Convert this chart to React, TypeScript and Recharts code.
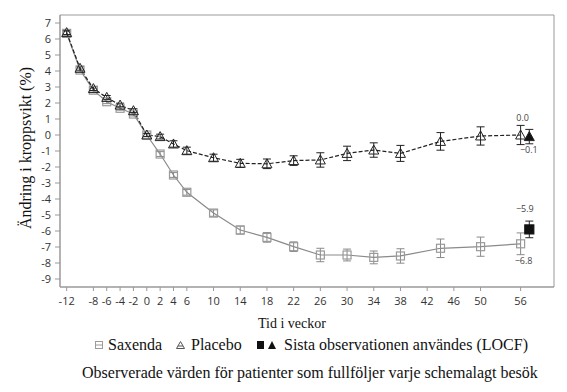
import React from "react";
import { ComposedChart, Line, Scatter, XAxis, YAxis, ErrorBar, ReferenceArea, LabelList } from "recharts";

// veckor (visit weeks) and mean change in body weight (%)
const weeks = [-12, -10, -8, -6, -4, -2, 0, 2, 4, 6, 10, 14, 18, 22, 26, 30, 34, 38, 44, 50, 56];
const saxenda = [6.35, 4.06, 2.8, 2.08, 1.67, 1.31, 0, -1.19, -2.5, -3.58, -4.88, -5.94, -6.4, -6.98, -7.5, -7.5, -7.65, -7.56, -7.08, -6.98, -6.8];
const saxendaErr = [0.12, 0.12, 0.12, 0.12, 0.12, 0.12, 0.1, 0.15, 0.15, 0.18, 0.2, 0.25, 0.3, 0.3, 0.42, 0.37, 0.4, 0.45, 0.58, 0.6, 0.68];
const placebo = [6.4, 4.17, 2.9, 2.35, 1.87, 1.52, 0, -0.1, -0.56, -0.98, -1.42, -1.77, -1.8, -1.6, -1.56, -1.15, -0.94, -1.15, -0.4, -0.06, 0.0];
const placeboErr = [0.12, 0.12, 0.12, 0.12, 0.12, 0.12, 0.1, 0.15, 0.2, 0.22, 0.22, 0.25, 0.3, 0.3, 0.45, 0.45, 0.45, 0.5, 0.55, 0.57, 0.6];

// LOCF values at end of treatment
const locfWeek = 57.3;
const saxendaLocf = -5.9;
const saxendaLocfErr = 0.52;
const placeboLocf = -0.1;
const placeboLocfErr = 0.45;

const xTicks = [-12, -8, -6, -4, -2, 0, 2, 4, 6, 10, 14, 18, 22, 26, 30, 34, 38, 42, 46, 50, 56];
const yTicks = [-9, -8, -7, -6, -5, -4, -3, -2, -1, 0, 1, 2, 3, 4, 5, 6, 7];

const saxData = weeks.map((w, i) => ({ week: w, value: saxenda[i], err: saxendaErr[i] }));
const plaData = weeks.map((w, i) => ({ week: w, value: placebo[i], err: placeboErr[i] }));
const saxLocfData = [{ week: locfWeek, value: saxendaLocf, err: saxendaLocfErr }];
const plaLocfData = [{ week: locfWeek, value: placeboLocf, err: placeboLocfErr }];

const serif = "Liberation Serif, Tinos, DejaVu Serif, Times New Roman, serif";
const sans = "Open Sans, Liberation Sans, sans-serif";

const fmt = (v: number) => v.toFixed(1).replace("-", "\u2212");

function Square(props: any) {
  const { cx, cy, filled } = props;
  if (cx == null || cy == null) return null;
  const s = filled ? 9 : 8;
  return (
    <rect x={cx - s / 2} y={cy - s / 2} width={s} height={s}
      fill={filled ? "#111" : "none"} stroke={filled ? "#111" : "#9a9a9a"} strokeWidth={1.2} />
  );
}

function Triangle(props: any) {
  const { cx, cy, filled } = props;
  if (cx == null || cy == null) return null;
  return (
    <path d={`M${cx},${cy - 5} L${cx + 5},${cy + 4} L${cx - 5},${cy + 4} Z`}
      fill={filled ? "#111" : "none"} stroke="#222" strokeWidth={1} />
  );
}

// value note next to the last point of a series
const note = (dx: number, dy: number, onlyIndex?: number) => (props: any) => {
  const { value, index } = props;
  if (onlyIndex != null && index !== onlyIndex) return null;
  const x = props.x ?? props.viewBox?.x;
  const y = props.y ?? props.viewBox?.y;
  if (x == null || y == null) return null;
  return (
    <text x={x + dx} y={y + dy} textAnchor="middle" dominantBaseline="central"
      fontFamily={sans} fontSize={9} fill="#444">
      {fmt(Number(value))}
    </text>
  );
};

const last = weeks.length - 1;

export default function App() {
  return (
    <div style={{ position: "absolute", left: 0, top: 0, width: 567, height: 392, background: "#fff" }}>
      <ComposedChart width={567} height={392} margin={{ top: 15, right: 13, bottom: 75, left: 0 }}>
        <XAxis type="number" dataKey="week" domain={[-13, 61]} ticks={xTicks} interval={0}
          allowDataOverflow height={30} tickSize={4} tickMargin={6}
          stroke="#999" tick={{ fill: "#333", fontSize: 11, fontFamily: sans }}
          label={{
            content: () => (
              <text x={292} y={328} textAnchor="middle" style={{ fontFamily: serif }} fontSize={14} fill="#111">
                Tid i veckor
              </text>
            ),
          }} />
        <YAxis type="number" domain={[-9.5, 7.5]} ticks={yTicks} interval={0} allowDataOverflow
          width={60} tickSize={5} tickMargin={4}
          stroke="#999" tick={{ fill: "#333", fontSize: 11, fontFamily: sans }}
          label={{
            content: () => (
              <text x={25} y={148} transform="rotate(-90 25 148)" textAnchor="middle"
                dominantBaseline="central" style={{ fontFamily: serif }} fontSize={16} fill="#111">
                Ändring i kroppsvikt (%)
              </text>
            ),
          }} />
        <ReferenceArea x1={-13} x2={61} y1={-9.5} y2={7.5} fill="none" stroke="#999" strokeWidth={1} ifOverflow="visible" />

        <Line data={saxData} dataKey="value" name="Saxenda" type="linear" stroke="#8a8a8a" strokeWidth={1.2}
          dot={(p: any) => <Square key={`s${p.index}`} {...p} />} activeDot={false} isAnimationActive={false}>
          <ErrorBar dataKey="err" direction="y" width={4} stroke="#8a8a8a" strokeWidth={1} isAnimationActive={false} />
          <LabelList dataKey="value" content={note(3, 17, last)} />
        </Line>

        <Line data={plaData} dataKey="value" name="Placebo" type="linear" stroke="#222" strokeWidth={1.2}
          strokeDasharray="4 2"
          dot={(p: any) => <Triangle key={`p${p.index}`} {...p} />} activeDot={false} isAnimationActive={false}>
          <ErrorBar dataKey="err" direction="y" width={4} stroke="#222" strokeWidth={1} isAnimationActive={false} />
          <LabelList dataKey="value" content={note(2, -18, last)} />
        </Line>

        <Scatter data={saxLocfData} dataKey="value" name="Saxenda LOCF" isAnimationActive={false}
          shape={(p: any) => <Square {...p} filled />}>
          <ErrorBar dataKey="err" direction="y" width={4} stroke="#222" strokeWidth={1} isAnimationActive={false} />
          <LabelList dataKey="value" content={note(0, -16)} />
        </Scatter>

        <Scatter data={plaLocfData} dataKey="value" name="Placebo LOCF" isAnimationActive={false}
          shape={(p: any) => <Triangle {...p} filled />}>
          <ErrorBar dataKey="err" direction="y" width={4} stroke="#222" strokeWidth={1} isAnimationActive={false} />
          <LabelList dataKey="value" content={note(4, 17)} />
        </Scatter>
      </ComposedChart>

      <div style={{ position: "absolute", left: 0, top: 336, width: 567, height: 20, fontFamily: serif, fontSize: 16, color: "#111", whiteSpace: "nowrap" }}>
        <svg style={{ position: "absolute", left: 95, top: 5 }} width={8} height={8}>
          <rect x={0.5} y={0.5} width={7} height={7} fill="none" stroke="#9a9a9a" />
          <line x1={0.5} x2={7.5} y1={4} y2={4} stroke="#9a9a9a" />
        </svg>
        <span style={{ position: "absolute", left: 108, top: 0 }}>Saxenda</span>
        <svg style={{ position: "absolute", left: 176, top: 5 }} width={9} height={8}>
          <path d="M4.5,0.5 L8.5,7.5 L0.5,7.5 Z" fill="none" stroke="#555" />
          <line x1={2} x2={7} y1={5} y2={5} stroke="#555" />
        </svg>
        <span style={{ position: "absolute", left: 191, top: 0 }}>Placebo</span>
        <svg style={{ position: "absolute", left: 257, top: 5 }} width={7} height={8}>
          <rect x={0} y={0} width={7} height={8} fill="#111" />
        </svg>
        <svg style={{ position: "absolute", left: 268, top: 5 }} width={8} height={8}>
          <path d="M4,0 L8,8 L0,8 Z" fill="#111" />
        </svg>
        <span style={{ position: "absolute", left: 284, top: 0 }}>Sista observationen användes (LOCF)</span>
      </div>
      <div style={{ position: "absolute", left: 82, top: 364, fontFamily: serif, fontSize: 16, color: "#111", whiteSpace: "nowrap" }}>
        Observerade värden för patienter som fullföljer varje schemalagt besök
      </div>
    </div>
  );
}
